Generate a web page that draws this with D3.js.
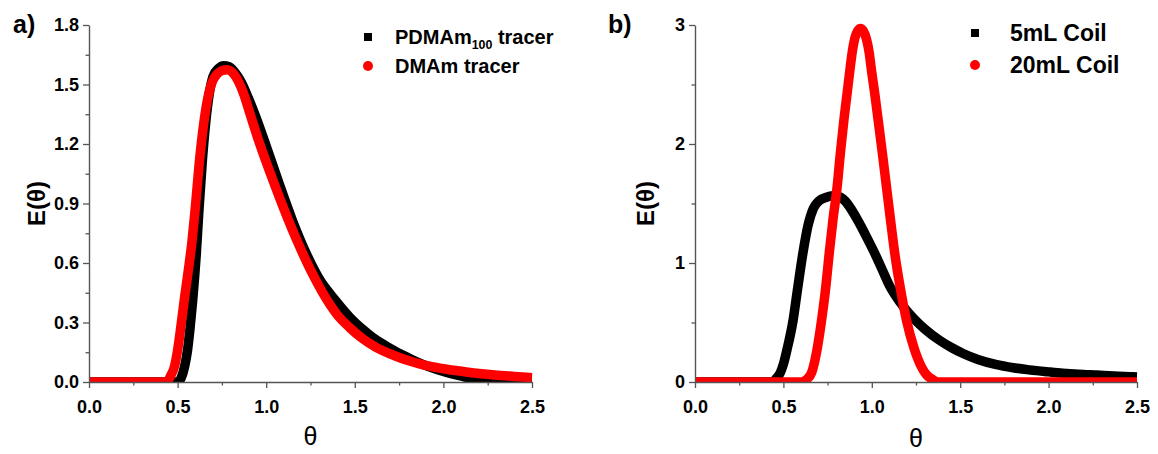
<!DOCTYPE html>
<html>
<head>
<meta charset="utf-8">
<script src="https://cdn.jsdelivr.net/npm/d3@7"></script>
<style>
  html, body { margin: 0; padding: 0; background: #fff; }
  svg { display: block; font-family: "Liberation Sans", Arial, sans-serif; }
</style>
</head>
<body>
<script>
// Residence time distributions E(θ) vs dimensionless time θ

const thetaTicks = [0, 0.5, 1.0, 1.5, 2.0, 2.5];
const thetaMinor = [0.25, 0.75, 1.25, 1.75, 2.25];
const leftYTicks = [0, 0.3, 0.6, 0.9, 1.2, 1.5, 1.8];
const leftYMinor = [0.15, 0.45, 0.75, 1.05, 1.35, 1.65];
const rightYTicks = [0, 1, 2, 3];
const rightYMinor = [0.5, 1.5, 2.5];

// panel a) tracers, [θ, E(θ)]
const pdmamTracer = [
  [0, 0], [0.5, 0], [0.52, 0.02], [0.54, 0.08], [0.556, 0.16], [0.57, 0.27],
  [0.585, 0.41], [0.605, 0.64], [0.62, 0.86], [0.64, 1.12], [0.66, 1.32],
  [0.68, 1.46], [0.7, 1.54], [0.73, 1.58], [0.76, 1.595], [0.79, 1.59],
  [0.82, 1.565], [0.86, 1.51], [0.9, 1.43], [0.94, 1.34], [1.0, 1.19],
  [1.073, 1.0], [1.15, 0.81], [1.22, 0.66], [1.3, 0.52], [1.36, 0.445],
  [1.41, 0.39], [1.47, 0.328], [1.545, 0.265], [1.6, 0.225], [1.67, 0.185],
  [1.733, 0.153], [1.8, 0.123], [1.86, 0.098], [1.92, 0.077], [2.0, 0.053],
  [2.11, 0.028], [2.2, 0.012], [2.3, 0.004], [2.4, 0.002], [2.5, 0.001]
];
const dmamTracer = [
  [0, 0], [0.44, 0], [0.46, 0.03], [0.483, 0.08], [0.5, 0.16], [0.52, 0.29],
  [0.54, 0.43], [0.56, 0.56], [0.58, 0.70], [0.6, 0.88], [0.624, 1.12],
  [0.65, 1.32], [0.67, 1.43], [0.69, 1.5], [0.72, 1.55], [0.75, 1.57],
  [0.78, 1.575], [0.82, 1.55], [0.87, 1.46], [0.913, 1.34], [0.96, 1.21],
  [1.045, 1.0], [1.11, 0.85], [1.185, 0.69], [1.27, 0.53], [1.36, 0.39],
  [1.4, 0.34], [1.47, 0.275], [1.545, 0.218], [1.62, 0.175], [1.733, 0.13],
  [1.8, 0.108], [1.86, 0.093], [1.92, 0.08], [2.0, 0.067], [2.11, 0.053],
  [2.2, 0.043], [2.29, 0.035], [2.4, 0.028], [2.5, 0.022]
];

// panel b) coil volumes, [θ, E(θ)]
const coil5mL = [
  [0, 0], [0.44, 0], [0.46, 0.03], [0.48, 0.07], [0.5, 0.15], [0.52, 0.27],
  [0.555, 0.52], [0.58, 0.78], [0.61, 1.08], [0.64, 1.32], [0.67, 1.46],
  [0.7, 1.52], [0.74, 1.55], [0.78, 1.565], [0.81, 1.56], [0.85, 1.52],
  [0.88, 1.46], [0.92, 1.36], [0.97, 1.22], [1.017, 1.08], [1.06, 0.94],
  [1.1, 0.81], [1.16, 0.67], [1.233, 0.54], [1.3, 0.445], [1.384, 0.35],
  [1.45, 0.29], [1.516, 0.24], [1.6, 0.19], [1.7, 0.148], [1.8, 0.12],
  [1.89, 0.102], [2.0, 0.085], [2.08, 0.074], [2.17, 0.065], [2.27, 0.058],
  [2.37, 0.051], [2.46, 0.045], [2.5, 0.043]
];
const coil20mL = [
  [0, 0], [0.6, 0], [0.63, 0.02], [0.66, 0.08], [0.69, 0.27], [0.716, 0.52],
  [0.74, 0.8], [0.759, 1.08], [0.78, 1.36], [0.804, 1.64], [0.822, 1.92],
  [0.842, 2.2], [0.86, 2.42], [0.876, 2.62], [0.89, 2.78], [0.904, 2.89],
  [0.92, 2.95], [0.936, 2.97], [0.952, 2.95], [0.97, 2.88], [0.985, 2.77],
  [0.998, 2.62], [1.017, 2.42], [1.036, 2.2], [1.06, 1.92], [1.083, 1.64],
  [1.106, 1.36], [1.13, 1.08], [1.16, 0.8], [1.196, 0.52], [1.24, 0.28],
  [1.28, 0.13], [1.31, 0.06], [1.345, 0.02], [1.37, 0], [2.5, 0]
];

const W = 1158, H = 454;
const svg = d3.select("body").append("svg").attr("width", W).attr("height", H);

const axisColor = "#555";

function drawPanel(cfg) {
  const x = d3.scaleLinear().domain([0, 2.5]).range([cfg.left, cfg.right]);
  const y = d3.scaleLinear().domain(cfg.yDomain).range([cfg.bottom, cfg.top]);
  const g = svg.append("g");

  // clip to the plotting area
  const clipId = "clip-" + cfg.id;
  svg.append("clipPath").attr("id", clipId)
    .append("rect")
    .attr("x", cfg.left).attr("y", 0)
    .attr("width", cfg.right - cfg.left + 1).attr("height", cfg.bottom);

  const line = d3.line()
    .x(d => x(d[0])).y(d => y(d[1]))
    .curve(d3.curveMonotoneX);

  const plot = g.append("g").attr("clip-path", `url(#${clipId})`);
  cfg.series.forEach(s => {
    plot.append("path")
      .datum(s.data)
      .attr("d", line)
      .attr("fill", "none")
      .attr("stroke", s.color)
      .attr("stroke-width", 9.5)
      .attr("stroke-linejoin", "round");
  });

  // minor ticks
  g.append("g").attr("transform", `translate(0,${cfg.bottom})`)
    .call(d3.axisBottom(x).tickValues(thetaMinor).tickFormat("").tickSize(3.5).tickSizeOuter(0))
    .call(a => a.select(".domain").remove());
  g.append("g").attr("transform", `translate(${cfg.left},0)`)
    .call(d3.axisLeft(y).tickValues(cfg.yMinor).tickFormat("").tickSize(3.5).tickSizeOuter(0))
    .call(a => a.select(".domain").remove());

  // major axes
  const xa = g.append("g").attr("transform", `translate(0,${cfg.bottom})`)
    .call(d3.axisBottom(x).tickValues(thetaTicks).tickFormat(d3.format(".1f"))
      .tickSize(6).tickSizeOuter(0).tickPadding(12));
  const ya = g.append("g").attr("transform", `translate(${cfg.left},0)`)
    .call(d3.axisLeft(y).tickValues(cfg.yTicks).tickFormat(d3.format(cfg.yFormat))
      .tickSize(6).tickSizeOuter(0).tickPadding(4));

  [xa, ya].forEach(a => {
    a.selectAll("text").attr("font-size", 18).attr("font-weight", "bold")
      .attr("fill", "#000").attr("font-family", "Liberation Sans, Arial, sans-serif");
  });
  g.selectAll(".domain").attr("stroke", axisColor).attr("stroke-width", 1.4);
  g.selectAll(".tick line").attr("stroke", axisColor).attr("stroke-width", 1.3);

  // axis titles
  g.append("text")
    .attr("x", (cfg.left + cfg.right) / 2).attr("y", cfg.xTitleY)
    .attr("text-anchor", "middle").attr("font-size", 25)
    .text("θ");
  g.append("text")
    .attr("transform", `translate(${cfg.yTitleX},${(cfg.top + cfg.bottom) / 2}) rotate(-90)`)
    .attr("text-anchor", "middle").attr("font-size", 24).attr("font-weight", "bold")
    .text("E(θ)");

  // panel letter
  g.append("text")
    .attr("x", cfg.letterX).attr("y", 33)
    .attr("font-size", 25).attr("font-weight", "bold")
    .text(cfg.letter);

  // legend
  cfg.legend.forEach((e, i) => {
    const cy = cfg.legendY[i];
    if (e.shape === "square") {
      g.append("rect").attr("x", cfg.legendX - 4).attr("y", cy - 4)
        .attr("width", 8).attr("height", 8).attr("fill", e.color);
    } else {
      g.append("circle").attr("cx", cfg.legendX).attr("cy", cy)
        .attr("r", 5).attr("fill", e.color);
    }
    const t = g.append("text")
      .attr("x", cfg.legendTextX).attr("y", cy + cfg.legendBaseline)
      .attr("font-size", cfg.legendSize).attr("font-weight", "bold");
    e.parts.forEach(p => {
      const ts = t.append("tspan").text(p.text);
      if (p.sub) ts.attr("font-size", cfg.legendSize * 0.62).attr("dy", 5);
      if (p.after) ts.attr("dy", -5);
    });
  });
}

drawPanel({
  id: "a", letter: "a)", letterX: 13,
  left: 89, right: 532, top: 25, bottom: 382,
  yDomain: [0, 1.8], yTicks: leftYTicks, yMinor: leftYMinor, yFormat: ".1f",
  xTitleY: 445, yTitleX: 45,
  series: [
    { data: pdmamTracer, color: "#000" },
    { data: dmamTracer, color: "#ff0000" }
  ],
  legendX: 368, legendTextX: 395, legendY: [37, 66], legendBaseline: 7, legendSize: 20,
  legend: [
    { shape: "square", color: "#000",
      parts: [{ text: "PDMAm" }, { text: "100", sub: true }, { text: " tracer", after: true }] },
    { shape: "circle", color: "#ff0000", parts: [{ text: "DMAm tracer" }] }
  ]
});

drawPanel({
  id: "b", letter: "b)", letterX: 608,
  left: 695, right: 1137, top: 25, bottom: 382,
  yDomain: [0, 3], yTicks: rightYTicks, yMinor: rightYMinor, yFormat: "d",
  xTitleY: 447, yTitleX: 654,
  series: [
    { data: coil5mL, color: "#000" },
    { data: coil20mL, color: "#ff0000" }
  ],
  legendX: 975, legendTextX: 1010, legendY: [33, 65], legendBaseline: 8, legendSize: 23,
  legend: [
    { shape: "square", color: "#000", parts: [{ text: "5mL Coil" }] },
    { shape: "circle", color: "#ff0000", parts: [{ text: "20mL Coil" }] }
  ]
});
</script>
</body>
</html>
